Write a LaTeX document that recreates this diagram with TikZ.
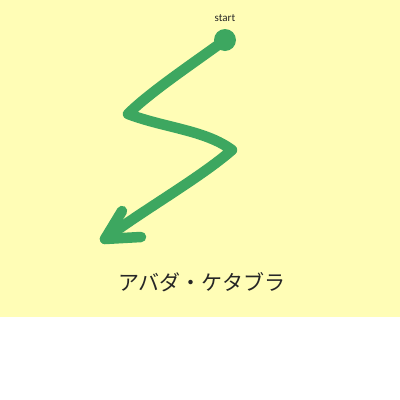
\documentclass[tikz,border=0pt]{standalone}
\usepackage{fontspec}
\setmainfont{Carlito}
\newfontfamily\jpfont{Noto Sans CJK JP}
\definecolor{bgyellow}{HTML}{FFFDB6}
\definecolor{zgreen}{HTML}{3DA760}
\tikzset{
  stroke/.style={draw=zgreen, line width=10.5pt, line cap=round, line join=round},
  label/.style={inner sep=0pt, text=black!85},
}
\begin{document}
\begin{tikzpicture}[x=1pt,y=-1pt]
\useasboundingbox (0,0) rectangle (400,400);
\fill[white] (0,0) rectangle (400,400);
\fill[bgyellow] (0,0) rectangle (400,317);
\coordinate (s) at (225,40);
\coordinate (c1) at (128,114);
\coordinate (c2) at (232,150);
\coordinate (tip) at (105,239);
\coordinate (w1) at (122,211);
\coordinate (w2) at (141,237);
\fill[zgreen] (s) circle (11);
\draw[stroke] (s) .. controls (195,62) and (150,92) .. (c1)
  .. controls (165,128) and (205,130) .. (c2)
  .. controls (200,178) and (140,212) .. (tip);
\draw[stroke] (w1) -- (tip) -- (w2);
\node[label, font=\fontsize{11}{13}\selectfont] (st) at (225,18) {start};
\node[label, font=\jpfont\fontsize{21}{24}\selectfont] (title) at (202,282) {アバダ・ケタブラ};
\end{tikzpicture}
\end{document}
